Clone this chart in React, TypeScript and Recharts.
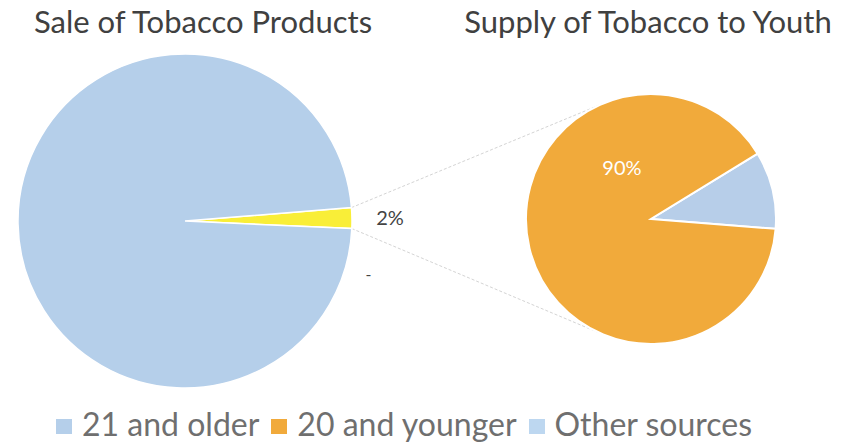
import { PieChart, Pie, Cell, Legend, Customized } from "recharts";

const saleCategories = ["20 and younger", "21 and older"];
const saleValues = [2, 98];
const supplyCategories = ["Other sources", "20 and younger"];
const supplyValues = [10, 90];
const legendLabels = ["21 and older", "20 and younger", "Other sources"];
const titles = ["Sale of Tobacco Products", "Supply of Tobacco to Youth"];

const COLORS = {
  blue: "#b5cfea",
  yellow: "#f9ee38",
  orange: "#f1aa3b",
  otherBlue: "#b7cee9",
  title: "#404040",
  legend: "#6f6f6f",
  label: "#444444",
  connector: "#d4d4d4",
};

const FONT = "Lato, 'Open Sans', sans-serif";

// pie geometry
const LEFT = { cx: 185, cy: 221, r: 167, start: -2.6 };
const RIGHT = { cx: 651, cy: 219, r: 125, start: -4.5 };

const saleData = saleCategories.map((name, i) => ({ name, value: saleValues[i] }));
const supplyData = supplyCategories.map((name, i) => ({ name, value: supplyValues[i] }));
const saleColors = [COLORS.yellow, COLORS.blue];
const supplyColors = [COLORS.otherBlue, COLORS.orange];
const legendColors = [COLORS.blue, COLORS.orange, "#bdd7f0"];

const RAD = Math.PI / 180;

function polar(cx: number, cy: number, r: number, deg: number) {
  return { x: cx + r * Math.cos(-deg * RAD), y: cy + r * Math.sin(-deg * RAD) };
}

function saleLabel(props: any) {
  const { cx, cy, outerRadius, midAngle, index, percent } = props;
  if (index === 0) {
    const p = polar(cx, cy, outerRadius + 38, midAngle);
    return (
      <text x={p.x} y={p.y} fill={COLORS.label} fontSize={20} fontFamily={FONT}
        textAnchor="middle" dominantBaseline="central">
        {`${Math.round(percent * 100)}%`}
      </text>
    );
  }
  const p = polar(cx, cy, outerRadius + 24, -16);
  return (
    <text x={p.x} y={p.y} fill={COLORS.label} fontSize={16} fontFamily={FONT}
      textAnchor="middle" dominantBaseline="central">
      -
    </text>
  );
}

function supplyLabel(props: any) {
  const { cx, cy, outerRadius, index, percent } = props;
  if (index !== 1) return null;
  const p = polar(cx, cy, outerRadius * 0.48, 119);
  return (
    <text x={p.x} y={p.y} fill="#ffffff" fontSize={20} fontFamily={FONT}
      textAnchor="middle" dominantBaseline="central">
      {`${Math.round(percent * 100)}%`}
    </text>
  );
}

// tangent from point to circle (screen coords)
function tangent(px: number, py: number, cx: number, cy: number, r: number, upper: boolean) {
  const dx = px - cx;
  const dy = py - cy;
  const d = Math.sqrt(dx * dx + dy * dy);
  const base = Math.atan2(dy, dx);
  const a = Math.acos(r / d);
  const t1 = { x: cx + r * Math.cos(base + a), y: cy + r * Math.sin(base + a) };
  const t2 = { x: cx + r * Math.cos(base - a), y: cy + r * Math.sin(base - a) };
  if (upper) return t1.y < t2.y ? t1 : t2;
  return t1.y > t2.y ? t1 : t2;
}

function Decorations() {
  const total = saleValues.reduce((s, v) => s + v, 0);
  const endDeg = LEFT.start + (saleValues[0] / total) * 360;
  const top = polar(LEFT.cx, LEFT.cy, LEFT.r, endDeg);
  const bottom = polar(LEFT.cx, LEFT.cy, LEFT.r, LEFT.start);
  const tTop = tangent(top.x, top.y, RIGHT.cx, RIGHT.cy, RIGHT.r, true);
  const tBottom = tangent(bottom.x, bottom.y, RIGHT.cx, RIGHT.cy, RIGHT.r, false);
  return (
    <g>
      <line x1={top.x} y1={top.y} x2={tTop.x} y2={tTop.y}
        stroke={COLORS.connector} strokeWidth={1} strokeDasharray="3 2" />
      <line x1={bottom.x} y1={bottom.y} x2={tBottom.x} y2={tBottom.y}
        stroke={COLORS.connector} strokeWidth={1} strokeDasharray="3 2" />
      <text x={203} y={33} textAnchor="middle" fontSize={31} fontFamily={FONT} fill={COLORS.title}>
        {titles[0]}
      </text>
      <text x={648} y={33} textAnchor="middle" fontSize={31} fontFamily={FONT} fill={COLORS.title}>
        {titles[1]}
      </text>
    </g>
  );
}

function renderLegend() {
  return (
    <div style={{ display: "flex", alignItems: "center", fontFamily: FONT, fontSize: 32, color: COLORS.legend, whiteSpace: "nowrap" }}>
      {legendLabels.map((label, i) => (
        <div key={label} style={{ display: "flex", alignItems: "center", marginRight: 12 }}>
          <span style={{ display: "inline-block", width: 16, height: 15, background: legendColors[i], marginRight: 10, marginTop: 5 }} />
          <span>{label}</span>
        </div>
      ))}
    </div>
  );
}

export default function App() {
  return (
    <div style={{ position: "absolute", left: 0, top: 0, width: 856, height: 444, background: "#fff" }}>
      <PieChart width={856} height={444} margin={{ top: 0, right: 0, bottom: 0, left: 0 }}>
        <Customized component={Decorations} />
        <Pie
          data={saleData}
          dataKey="value"
          nameKey="name"
          cx={LEFT.cx}
          cy={LEFT.cy}
          outerRadius={LEFT.r}
          startAngle={LEFT.start}
          endAngle={LEFT.start + 360}
          stroke="#ffffff"
          strokeWidth={1.5}
          label={saleLabel}
          labelLine={false}
          isAnimationActive={false}
        >
          {saleData.map((d, i) => (
            <Cell key={d.name} fill={saleColors[i]} />
          ))}
        </Pie>
        <Pie
          data={supplyData}
          dataKey="value"
          nameKey="name"
          cx={RIGHT.cx}
          cy={RIGHT.cy}
          outerRadius={RIGHT.r}
          startAngle={RIGHT.start}
          endAngle={RIGHT.start + 360}
          stroke="#ffffff"
          strokeWidth={2}
          label={supplyLabel}
          labelLine={false}
          isAnimationActive={false}
        >
          {supplyData.map((d, i) => (
            <Cell key={d.name} fill={supplyColors[i]} />
          ))}
        </Pie>
        <Legend content={renderLegend} wrapperStyle={{ left: 56, top: 404, width: 800 }} />
      </PieChart>
    </div>
  );
}
